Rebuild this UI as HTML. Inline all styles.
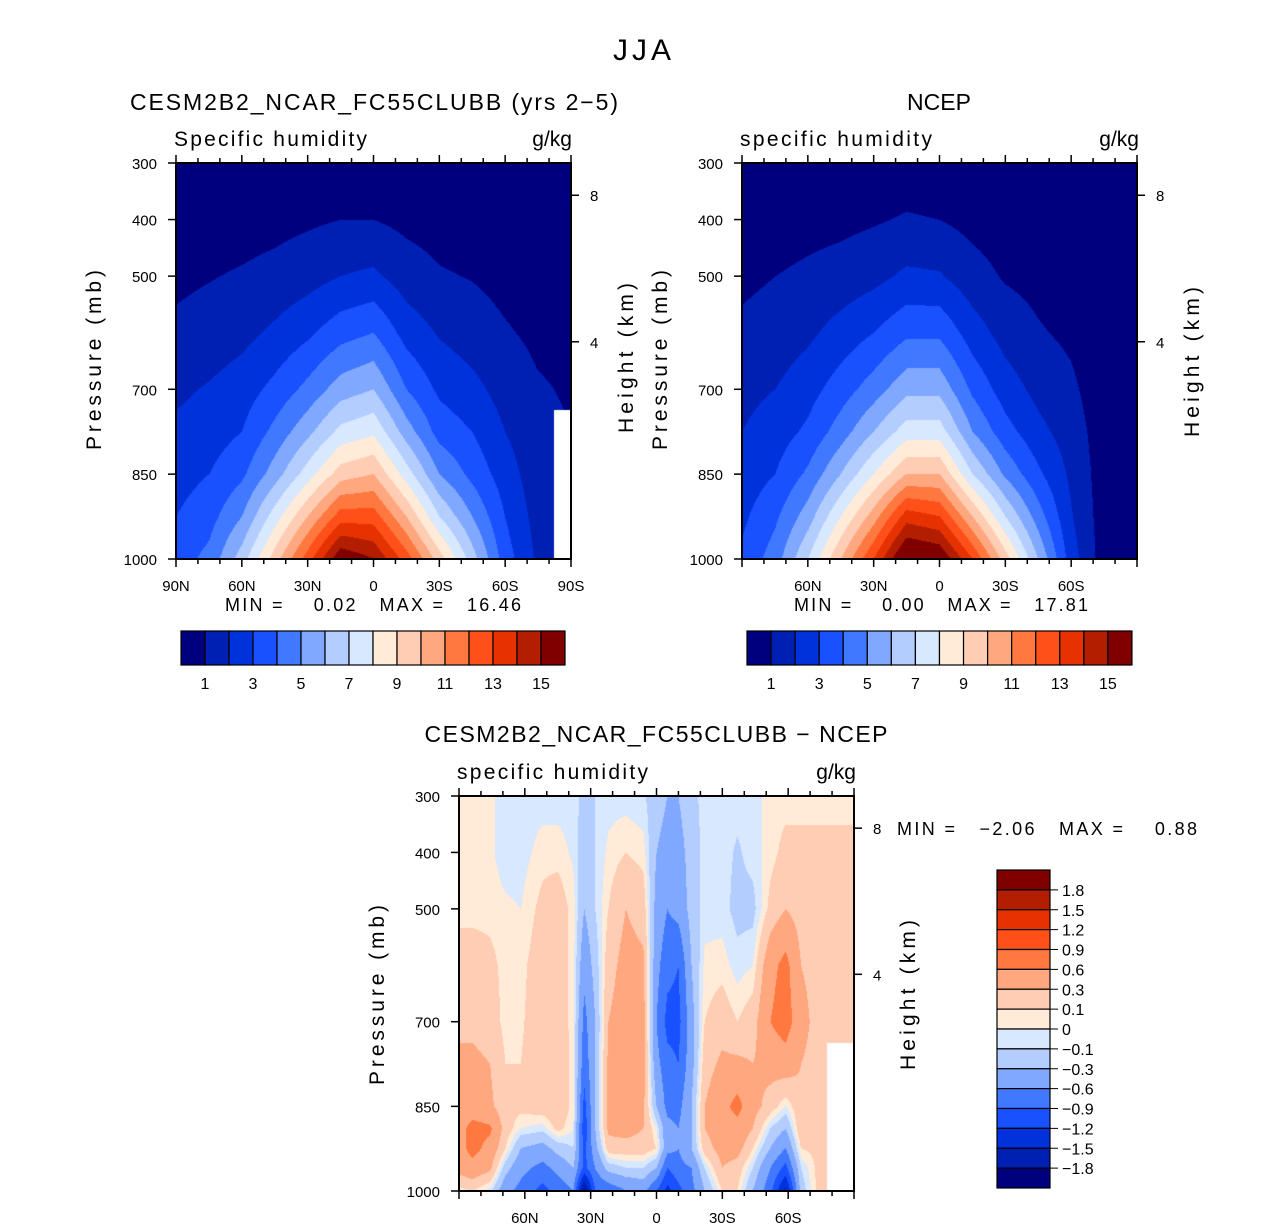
<!DOCTYPE html>
<html><head><meta charset="utf-8"><title>JJA specific humidity</title>
<style>
html,body{margin:0;padding:0;background:#fff;}
#wrap{position:relative;width:1285px;height:1230px;overflow:hidden;background:#fff;}
canvas{position:absolute;}
svg{position:absolute;left:0;top:0;}
text{font-family:"Liberation Sans",sans-serif;fill:#000;}
</style></head><body>
<div id="wrap">
<canvas id="c1" style="left:176px;top:163px" width="395" height="396"></canvas>
<canvas id="c2" style="left:742px;top:163px" width="395" height="396"></canvas>
<canvas id="c3" style="left:459px;top:796px" width="395" height="395"></canvas>
<svg id="ov" width="1285" height="1230" xmlns="http://www.w3.org/2000/svg">
<text x="642" y="60" font-size="30" text-anchor="middle" textLength="58">JJA</text>
<text x="130" y="110" font-size="23" textLength="488">CESM2B2_NCAR_FC55CLUBB (yrs 2−5)</text>
<text x="174" y="146" font-size="21" textLength="193">Specific humidity</text>
<text x="572" y="146" font-size="21" text-anchor="end">g/kg</text>
<text x="939" y="110" font-size="23" text-anchor="middle" textLength="64">NCEP</text>
<text x="740" y="146" font-size="21" textLength="192">specific humidity</text>
<text x="1139" y="146" font-size="21" text-anchor="end">g/kg</text>
<text x="656" y="742" font-size="23" text-anchor="middle" textLength="463">CESM2B2_NCAR_FC55CLUBB − NCEP</text>
<text x="457" y="779" font-size="21" textLength="191">specific humidity</text>
<text x="856" y="779" font-size="21" text-anchor="end">g/kg</text>
<text x="225" y="611" font-size="18" textLength="296" xml:space="preserve">MIN =    0.02   MAX =   16.46</text>
<text x="794" y="611" font-size="18" textLength="294" xml:space="preserve">MIN =    0.00   MAX =   17.81</text>
<text x="897" y="835" font-size="18" textLength="300" xml:space="preserve">MIN =   −2.06   MAX =    0.88</text>
<text transform="translate(101,360) rotate(-90)" font-size="21" text-anchor="middle" textLength="180">Pressure (mb)</text>
<text transform="translate(633,358) rotate(-90)" font-size="21" text-anchor="middle" textLength="150">Height (km)</text>
<text transform="translate(667,360) rotate(-90)" font-size="21" text-anchor="middle" textLength="180">Pressure (mb)</text>
<text transform="translate(1199,362) rotate(-90)" font-size="21" text-anchor="middle" textLength="150">Height (km)</text>
<text transform="translate(384,995) rotate(-90)" font-size="21" text-anchor="middle" textLength="180">Pressure (mb)</text>
<text transform="translate(915,995) rotate(-90)" font-size="21" text-anchor="middle" textLength="150">Height (km)</text>
<g id="axes"></g>
</svg>
</div>
<script>
// ---------- data ----------
const pLevels = [1000, 925, 850, 775, 700, 600, 500, 400, 300];
const latsMain = [90, 75, 60, 45, 30, 15, 0, -15, -30, -45, -60, -75, -90];
const cesmCols = [
 [3.5,3.0,2.6,2.2,1.8,1.2,0.8,0.4,0.15],
 [4.3,3.6,3.0,2.5,2.1,1.4,0.95,0.5,0.2],
 [6.5,5.0,3.8,3.0,2.5,1.7,1.1,0.6,0.25],
 [9.5,7.5,5.5,4.3,3.3,2.2,1.3,0.7,0.3],
 [12.5,10,7.5,5.7,4.3,2.8,1.6,0.85,0.3],
 [15.8,12.5,9.5,7.3,5.5,3.6,2.0,1.0,0.35],
 [15,12.5,10,7.8,6.0,4.0,2.2,1.0,0.35],
 [12.5,10,7.5,5.5,4.0,2.6,1.5,0.75,0.3],
 [9.5,7,5,3.6,2.8,1.9,1.1,0.6,0.25],
 [6.5,5,3.7,3.0,2.3,1.5,0.95,0.5,0.2],
 [3.5,3,2.5,2.0,1.6,1.1,0.7,0.4,0.15],
 [1.8,1.6,1.4,1.3,1.1,0.8,0.5,0.3,0.1],
 [null,null,null,null,0.9,0.7,0.45,0.25,0.1]
];
const ncepCols = [
 [3.2,2.8,2.4,2.0,1.7,1.2,0.8,0.4,0.1],
 [4.5,3.8,3.0,2.5,2.0,1.4,1.0,0.5,0.2],
 [7,5.5,4.2,3.2,2.6,1.8,1.2,0.65,0.25],
 [10,8,6,4.5,3.5,2.4,1.4,0.75,0.3],
 [13,10.5,8,6,4.5,3.0,1.7,0.9,0.35],
 [16.5,13.5,10,7.5,5.7,3.8,2.2,1.1,0.4],
 [16,13,10,7.5,5.7,3.8,2.1,1.0,0.35],
 [13,10,7,5,3.8,2.5,1.4,0.7,0.3],
 [9.5,7,4.8,3.4,2.5,1.6,0.9,0.5,0.2],
 [6,4.5,3.2,2.3,1.7,1.1,0.7,0.35,0.15],
 [2.5,2.1,1.8,1.5,1.2,0.8,0.5,0.3,0.1],
 [0.5,0.5,0.5,0.5,0.4,0.3,0.2,0.1,0.05],
 [0.2,0.2,0.2,0.2,0.2,0.15,0.1,0.05,0.03]
];
const pLevelsDiff = [1000, 960, 925, 890, 850, 775, 700, 600, 500, 400, 300];
const latsDiff = [90,84,76,69,62,52,45,38,33,28,22,14,6,0,-5,-10,-16,-22,-30,-37,-44,-52,-59,-66,-74,-82,-90];
const diffCols = [
 [0.05,0.4,0.5,0.5,0.4,0.35,0.25,0.2,0.05,0.03,0.03],
 [0.1,0.5,0.7,0.7,0.45,0.35,0.25,0.2,0.05,0.03,0.03],
 [-0.05,0.35,0.5,0.65,0.35,0.3,0.2,0.15,0.05,0.02,0.02],
 [-0.5,-0.2,0.1,0.2,0.15,0.1,0.05,0.05,0.02,-0.05,-0.05],
 [-0.7,-0.5,-0.3,0.0,0.15,0.1,0.08,0.06,0.0,-0.05,-0.05],
 [-1.0,-0.7,-0.4,-0.05,0.2,0.2,0.2,0.2,0.15,0.05,-0.05],
 [-0.8,-0.5,-0.2,0.15,0.25,0.25,0.2,0.2,0.2,0.05,-0.05],
 [-0.6,-0.3,-0.1,0.0,0.05,0.05,0.05,0.05,0.05,-0.02,-0.05],
 [-1.9,-1.0,-1.0,-1.1,-1.0,-0.8,-0.7,-0.5,-0.3,-0.2,-0.15],
 [-0.9,-0.6,-0.4,-0.3,-0.3,-0.3,-0.3,-0.2,-0.1,-0.1,-0.1],
 [-0.8,-0.2,0.2,0.35,0.35,0.35,0.3,0.2,0.1,0.03,-0.05],
 [-0.6,-0.1,0.2,0.4,0.5,0.45,0.45,0.4,0.3,0.1,-0.05],
 [-0.5,-0.1,0.2,0.3,0.35,0.4,0.4,0.35,0.2,0.05,-0.08],
 [-0.9,-0.3,0.1,0.0,-0.3,-0.5,-0.6,-0.5,-0.4,-0.3,-0.2],
 [-1.3,-0.9,-0.5,-0.5,-0.7,-0.8,-1.0,-0.8,-0.6,-0.4,-0.3],
 [-1.0,-0.7,-0.6,-0.6,-0.7,-0.9,-1.0,-0.9,-0.5,-0.4,-0.3],
 [-0.7,-0.6,-0.3,-0.3,-0.3,-0.4,-0.4,-0.3,-0.2,-0.2,-0.15],
 [-0.3,-0.1,0.2,0.3,0.3,0.2,0.1,0.03,-0.05,-0.05,-0.05],
 [0.1,0.3,0.4,0.45,0.5,0.35,0.2,0.05,-0.05,-0.05,-0.05],
 [0.1,0.2,0.4,0.5,0.7,0.35,0.1,-0.05,-0.15,-0.12,-0.05],
 [-0.3,-0.1,0.1,0.3,0.4,0.3,0.2,0.0,-0.15,-0.05,-0.05],
 [-0.8,-0.6,-0.3,-0.1,0.2,0.4,0.6,0.5,0.15,0.05,0.05],
 [-1.6,-1.0,-0.6,-0.3,0.0,0.45,0.75,0.7,0.3,0.15,0.05],
 [-0.2,-0.1,0.1,0.25,0.25,0.3,0.4,0.3,0.2,0.15,0.05],
 [0.15,0.15,0.15,0.15,0.15,0.2,0.2,0.2,0.2,0.15,0.05],
 [null,null,null,null,null,null,0.2,0.2,0.2,0.15,0.05],
 [null,null,null,null,null,null,0.2,0.2,0.2,0.15,0.05]
];
const boundsMain = [1,2,3,4,5,6,7,8,9,10,11,12,13,14,15];
const boundsDiff = [-1.8,-1.5,-1.2,-0.9,-0.6,-0.3,-0.1,0,0.1,0.3,0.6,0.9,1.2,1.5,1.8];
const barLabelsMain = ["1","3","5","7","9","11","13","15"];
const barLabelIdxMain = [1,3,5,7,9,11,13,15];
const barLabelsDiff = ["1.8","1.5","1.2","0.9","0.6","0.3","0.1","0","−0.1","−0.3","−0.6","−0.9","−1.2","−1.5","−1.8"];
const pressureTicks = [300,400,500,700,850,1000];
const heightTicks = ["8","4"];
const heightTickPressure = [357,616];
const latTicksFull = [90,60,30,0,-30,-60,-90];
const latLabelsFull = ["90N","60N","30N","0","30S","60S","90S"];
const latTicksShort = [60,30,0,-30,-60];
const latLabelsShort = ["60N","30N","0","30S","60S"];
const colors = ["#00007f","#0020b4","#0032dc","#1950ff","#4078ff","#80a8ff","#b4cdff","#d7e8ff",
 "#ffebd7","#ffcdb4","#ffa880","#ff7840","#ff5019","#e63200","#b41e00","#800000"];

// ---------- rendering ----------
function hex(c){return [parseInt(c.slice(1,3),16),parseInt(c.slice(3,5),16),parseInt(c.slice(5,7),16)];}
const rgb = colors.map(hex);
function findIdx(arr,v){ // arr descending
  for(let i=0;i<arr.length-1;i++){ if(v<=arr[i] && v>=arr[i+1]) return i; }
  return v>arr[0]?0:arr.length-2;
}
function drawField(id,lats,levs,cols,bounds){
  const cv=document.getElementById(id), ctx=cv.getContext('2d');
  const W=cv.width,H=cv.height, img=ctx.createImageData(W,H);
  for(let py=0;py<H;py++){
    const p = levs[levs.length-1] + (py/(H-1))*(levs[0]-levs[levs.length-1]);
    const j=findIdx(levs,p), ty=(levs[j]-p)/(levs[j]-levs[j+1]);
    for(let px=0;px<W;px++){
      const lat = 90 - px/(W-1)*180;
      const i=findIdx(lats,lat), tx=(lats[i]-lat)/(lats[i]-lats[i+1]);
      const ni = tx<0.5?i:i+1, nj = ty<0.5?j:j+1;
      const o=(py*W+px)*4;
      if(cols[ni][nj]===null){img.data[o]=255;img.data[o+1]=255;img.data[o+2]=255;img.data[o+3]=255;continue;}
      const cs=[[cols[i][j],(1-tx)*(1-ty)],[cols[i+1][j],tx*(1-ty)],[cols[i][j+1],(1-tx)*ty],[cols[i+1][j+1],tx*ty]];
      let s=0,w=0; for(const [v,ww] of cs){ if(v!==null){s+=v*ww;w+=ww;} }
      const v=s/w; let k=0; while(k<bounds.length && v>=bounds[k]) k++;
      const c=rgb[k]; img.data[o]=c[0];img.data[o+1]=c[1];img.data[o+2]=c[2];img.data[o+3]=255;
    }
  }
  ctx.putImageData(img,0,0);
}
drawField('c1',latsMain,pLevels,cesmCols,boundsMain);
drawField('c2',latsMain,pLevels,ncepCols,boundsMain);
drawField('c3',latsDiff,pLevelsDiff,diffCols,boundsDiff);

// ---------- axes ----------
const NS='http://www.w3.org/2000/svg', g=document.getElementById('axes');
function mk(tag,attrs,parent){const e=document.createElementNS(NS,tag);for(const k in attrs)e.setAttribute(k,attrs[k]);(parent||g).appendChild(e);return e;}
function txt(x,y,s,size,anchor){const e=mk('text',{x:x,y:y,'font-size':size,'text-anchor':anchor});e.textContent=s;return e;}
function panelAxes(name,x0,y0,w,h,latT,latL){
  const xs=lat=>x0+(90-lat)/180*w, ys=p=>y0+(p-300)/700*h;
  const fr=mk('rect',{x:x0,y:y0,width:w,height:h,fill:'none',stroke:'#000','stroke-width':2});
  
  
  pressureTicks.forEach(p=>{
    mk('line',{x1:x0-8,x2:x0,y1:ys(p),y2:ys(p),stroke:'#000','stroke-width':1.5});
    const t=txt(x0-19,ys(p)+6,String(p),15,'end');
    
    
  });
  heightTicks.forEach((hv,k)=>{
    const y=ys(heightTickPressure[k]);
    mk('line',{x1:x0+w,x2:x0+w+8,y1:y,y2:y,stroke:'#000','stroke-width':1.5});
    const t=txt(x0+w+19,y+6,hv,15,'start');
    
    
  });
  for(let lat=90;lat>=-90;lat-=10){
    const x=xs(lat), major=(lat%30===0);
    mk('line',{x1:x,x2:x,y1:y0+h,y2:y0+h+(major?8:5),stroke:'#000','stroke-width':1.5});
    mk('line',{x1:x,x2:x,y1:y0,y2:y0-(major?8:5),stroke:'#000','stroke-width':1.5});
  }
  latT.forEach((lat,k)=>{
    const t=txt(xs(lat),y0+h+32,latL[k],15,'middle');
    
    
  });
}
panelAxes('cesm',176,163,395,396,latTicksFull,latLabelsFull);
panelAxes('ncep',742,163,395,396,latTicksShort,latLabelsShort);
panelAxes('diff',459,796,395,395,latTicksShort,latLabelsShort);

function hBar(name,x0,y0,bw,bh){
  colors.forEach((c,k)=>{
    const r=mk('rect',{x:x0+k*bw,y:y0,width:bw,height:bh,fill:c,stroke:'#000','stroke-width':1.2});
    
    
  });
  barLabelsMain.forEach((s,k)=>{
    const t=txt(x0+barLabelIdxMain[k]*bw,y0+bh+24,s,16,'middle');
    
    
  });
}
hBar('cesm',181,631,24,34);
hBar('ncep',747,631,24.06,34);
(function(){
  const x0=997,y0=870,bw=53,bh=318/16;
  colors.slice().reverse().forEach((c,k)=>{
    const r=mk('rect',{x:x0,y:y0+k*bh,width:bw,height:bh,fill:c,stroke:'#000','stroke-width':1.2});
    
    
  });
  barLabelsDiff.forEach((s,k)=>{
    const y=y0+(k+1)*bh;
    mk('line',{x1:x0+bw,x2:x0+bw+8,y1:y,y2:y,stroke:'#000','stroke-width':1});
    const t=txt(x0+bw+12,y+6,s,16,'start');
    
    
  });
})();
</script>
</body></html>
